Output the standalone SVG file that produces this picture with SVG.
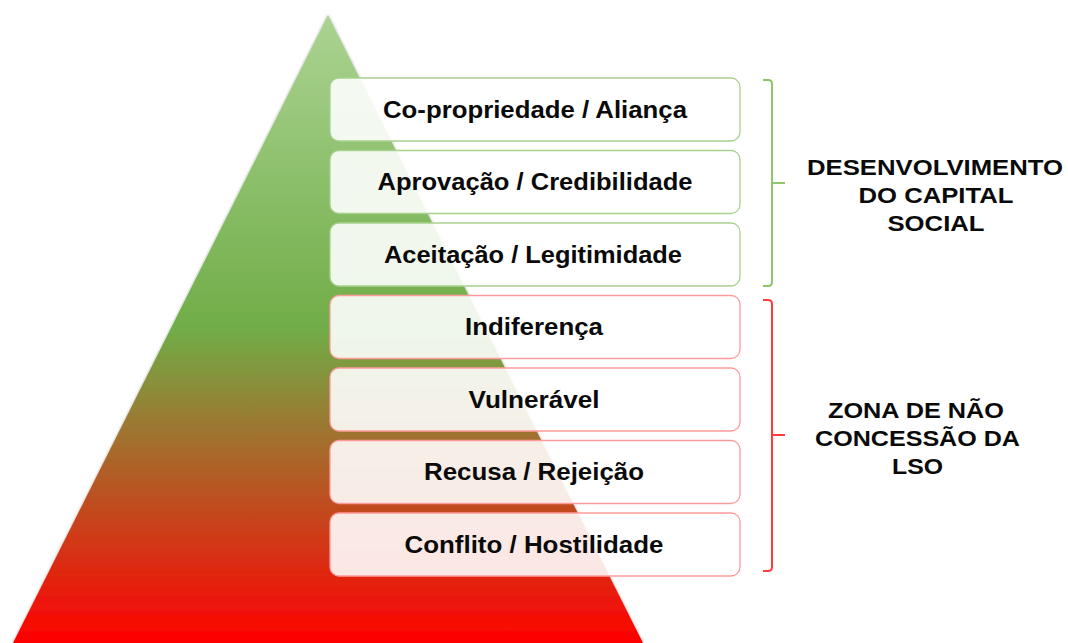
<svg xmlns="http://www.w3.org/2000/svg" width="1068" height="643" viewBox="0 0 1068 643">
  <defs>
    <linearGradient id="pyr" x1="0" y1="15" x2="0" y2="643" gradientUnits="userSpaceOnUse">
      <stop offset="0" stop-color="#abd392"/>
      <stop offset="0.5" stop-color="#70ad47"/>
      <stop offset="1" stop-color="#ff0000"/>
    </linearGradient>
    <filter id="sh" x="-5%" y="-5%" width="110%" height="110%">
      <feGaussianBlur in="SourceAlpha" stdDeviation="1.5"/>
      <feComponentTransfer><feFuncA type="linear" slope="0.35"/></feComponentTransfer>
      <feMerge><feMergeNode/><feMergeNode in="SourceGraphic"/></feMerge>
    </filter>
  </defs>
  <style>
    .box { fill: #ffffff; fill-opacity: 0.89; stroke-width: 1.3; }
    .g { stroke: #a9d18e; }
    .r { stroke: #ff9a9a; }
    .lbl { font-family: "Liberation Sans", Arial, sans-serif; font-weight: bold; font-size: 23px; fill: #0a0a0a; text-anchor: middle; }
    .side { font-family: "Liberation Sans", Arial, sans-serif; font-weight: bold; font-size: 22px; fill: #0a0a0a; text-anchor: middle; }
    .br { fill: none; stroke-width: 2; }
    .brg { stroke: #8ec46a; }
    .brr { stroke: #ff3b3b; }
  </style>
  <rect width="1068" height="643" fill="#ffffff"/>
  <g id="pyramid">
    <polygon points="328,15 643,643 13,643" fill="url(#pyr)" filter="url(#sh)"/>
  </g>
  <g id="node-copropriedade">
    <rect class="box g" x="330" y="78" width="410" height="63" rx="9"/>
    <text class="lbl" x="535" y="117.5" textLength="304" lengthAdjust="spacingAndGlyphs">Co-propriedade / Aliança</text>
  </g>
  <g id="node-aprovacao">
    <rect class="box g" x="330" y="150.5" width="410" height="63" rx="9"/>
    <text class="lbl" x="535" y="190" textLength="315" lengthAdjust="spacingAndGlyphs">Aprovação / Credibilidade</text>
  </g>
  <g id="node-aceitacao">
    <rect class="box g" x="330" y="223" width="410" height="63" rx="9"/>
    <text class="lbl" x="533" y="262.5" textLength="298" lengthAdjust="spacingAndGlyphs">Aceitação / Legitimidade</text>
  </g>
  <g id="node-indiferenca">
    <rect class="box r" x="330" y="295.5" width="410" height="63" rx="9"/>
    <text class="lbl" x="534" y="335" textLength="138" lengthAdjust="spacingAndGlyphs">Indiferença</text>
  </g>
  <g id="node-vulneravel">
    <rect class="box r" x="330" y="368" width="410" height="63" rx="9"/>
    <text class="lbl" x="534" y="407.5" textLength="131" lengthAdjust="spacingAndGlyphs">Vulnerável</text>
  </g>
  <g id="node-recusa">
    <rect class="box r" x="330" y="440.5" width="410" height="63" rx="9"/>
    <text class="lbl" x="534" y="480" textLength="220" lengthAdjust="spacingAndGlyphs">Recusa / Rejeição</text>
  </g>
  <g id="node-conflito">
    <rect class="box r" x="330" y="513" width="410" height="63" rx="9"/>
    <text class="lbl" x="534" y="552.5" textLength="259" lengthAdjust="spacingAndGlyphs">Conflito / Hostilidade</text>
  </g>
  <g id="connectors">
    <path class="br brg" d="M763,80 H768 Q772,80 772,84 V282 Q772,286 768,286 H763 M772,183 H785"/>
    <path class="br brr" d="M763,300 H768 Q772,300 772,304 V567 Q772,571 768,571 H763 M772,435 H785"/>
  </g>
  <g id="label-desenvolvimento">
    <text class="side" x="935" y="175" textLength="256" lengthAdjust="spacingAndGlyphs">DESENVOLVIMENTO</text>
    <text class="side" x="936" y="203" textLength="155" lengthAdjust="spacingAndGlyphs">DO CAPITAL</text>
    <text class="side" x="936" y="231" textLength="97" lengthAdjust="spacingAndGlyphs">SOCIAL</text>
  </g>
  <g id="label-zona">
    <text class="side" x="916" y="418" textLength="176" lengthAdjust="spacingAndGlyphs">ZONA DE NÃO</text>
    <text class="side" x="917.5" y="446" textLength="205" lengthAdjust="spacingAndGlyphs">CONCESSÃO DA</text>
    <text class="side" x="917.5" y="474" textLength="51" lengthAdjust="spacingAndGlyphs">LSO</text>
  </g>
</svg>
